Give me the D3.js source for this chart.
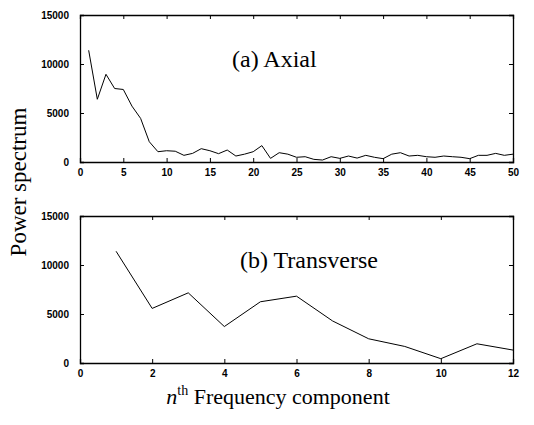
<!DOCTYPE html>
<html><head><meta charset="utf-8">
<script src="https://cdn.jsdelivr.net/npm/d3@7"></script>
<style>body{margin:0;background:#fff}</style>
</head><body>
<svg id="c" width="534" height="425"></svg>
<script>
const axialN = d3.range(1, 51);
const axialValues = [11400,6400,8950,7500,7400,5700,4450,2070,1050,1150,
  1100,680,880,1360,1150,850,1220,610,800,1050,
  1670,370,950,800,480,540,270,200,540,370,
  610,400,680,480,340,800,950,610,680,540,
  480,610,540,480,340,680,680,880,680,800];
const transN = [1,2,3,4,5,6,7,8,9,10,11,12];
const transValues = [11400,5570,7160,3720,6250,6820,4290,2470,1690,440,1960,1320];
const axialXTicks = [0,5,10,15,20,25,30,35,40,45,50];
const transXTicks = [0,2,4,6,8,10,12];
const yTicks = [0,5000,10000,15000];
const panelLabels = ["(a) Axial", "(b) Transverse"];

const svg = d3.select("#c");
const L = 80, R = 513;

function panel(top, bottom, xs, ys, xMax, xTicks, label, lx, ly) {
  const x = d3.scaleLinear().domain([0, xMax]).range([L, R]);
  const y = d3.scaleLinear().domain([0, 15000]).range([bottom, top]);
  const g = svg.append("g");
  const tl = 4;
  const ax = g.append("g").attr("transform", `translate(0,${bottom})`)
    .call(d3.axisBottom(x).tickValues(xTicks).tickSize(-tl).tickPadding(7).tickFormat(d3.format("d")));
  const ay = g.append("g").attr("transform", `translate(${L},0)`)
    .call(d3.axisLeft(y).tickValues(yTicks).tickSize(-tl).tickPadding(11).tickFormat(d3.format("d")));
  const at = g.append("g").attr("transform", `translate(0,${top})`)
    .call(d3.axisTop(x).tickValues(xTicks).tickSize(-tl).tickFormat(""));
  const ar = g.append("g").attr("transform", `translate(${R},0)`)
    .call(d3.axisRight(y).tickValues(yTicks).tickSize(-tl).tickFormat(""));
  [ax, ay, at, ar].forEach(a => {
    a.select(".domain").attr("stroke", "#000").attr("stroke-width", 1.3);
    a.selectAll(".tick line").attr("stroke", "#000").attr("stroke-width", 1);
    a.selectAll("text").attr("font-family", "Liberation Sans, Arial, sans-serif")
      .attr("font-size", 10).attr("font-weight", "bold").attr("fill", "#000");
  });
  g.append("path")
    .datum(xs.map((v, i) => [v, ys[i]]))
    .attr("fill", "none").attr("stroke", "#000").attr("stroke-width", 1)
    .attr("d", d3.line().x(d => x(d[0])).y(d => y(d[1])));
  g.append("text").attr("x", lx).attr("y", ly)
    .attr("font-family", "Liberation Serif, Times New Roman, serif")
    .attr("font-size", 24).attr("fill", "#000").text(label);
}

panel(15, 162, axialN, axialValues, 50, axialXTicks, panelLabels[0], 232, 67);
panel(216, 363, transN, transValues, 12, transXTicks, panelLabels[1], 240, 268);

svg.append("text")
  .attr("transform", "translate(26,182) rotate(-90)")
  .attr("text-anchor", "middle")
  .attr("font-family", "Liberation Serif, Times New Roman, serif")
  .attr("font-size", 23).attr("fill", "#000").text("Power spectrum");

const xt = svg.append("text")
  .attr("x", 278).attr("y", 404).attr("text-anchor", "middle")
  .attr("font-family", "Liberation Serif, Times New Roman, serif")
  .attr("font-size", 22).attr("fill", "#000");
xt.append("tspan").attr("font-style", "italic").text("n");
xt.append("tspan").attr("font-size", 14).attr("dy", -9).text("th");
xt.append("tspan").attr("dy", 9).text(" Frequency component");
</script>
</body></html>
